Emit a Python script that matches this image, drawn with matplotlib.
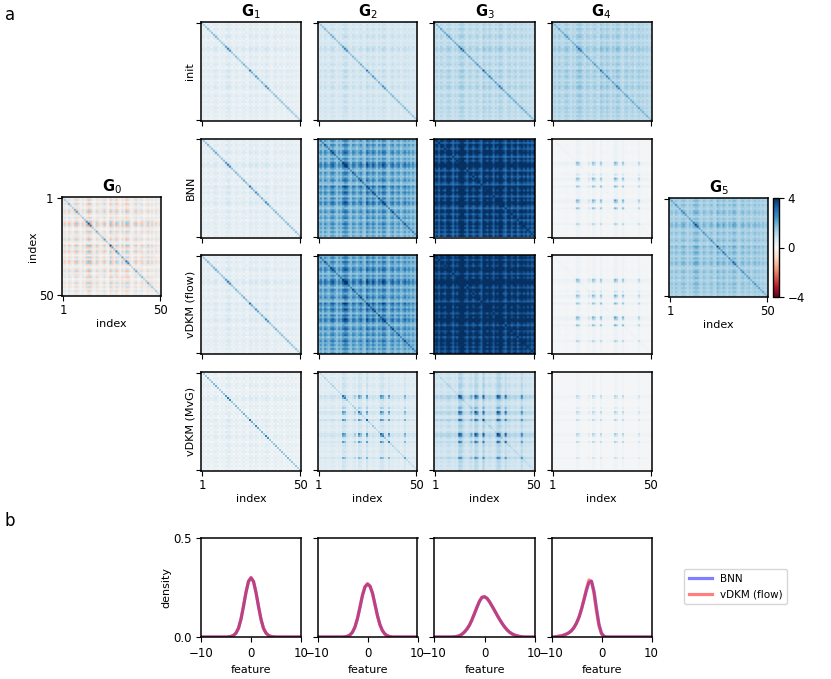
import numpy as np
import matplotlib
matplotlib.use("Agg")
import matplotlib.pyplot as plt
from matplotlib.lines import Line2D

# ---------------- data ----------------
row_labels = ["init", "BNN", "vDKM (flow)", "vDKM (MvG)"]
col_titles = [r"$\mathbf{G}_1$", r"$\mathbf{G}_2$", r"$\mathbf{G}_3$", r"$\mathbf{G}_4$"]

# per-index feature magnitude (plaid structure of the Gram matrices), read by eye
row_scale = [0.45, 0.75, 0.30, 0.85, 0.55, 0.35, 0.80, 0.95, 0.60, 0.25,
             0.70, 0.40, 0.90, 1.15, 1.05, 0.55, 0.30, 0.85, 0.65, 0.35,
             0.60, 0.90, 0.45, 0.25, 1.10, 0.75, 0.50, 1.00, 0.70, 0.30,
             0.85, 0.50, 1.05, 0.95, 0.45, 0.25, 0.70, 0.90, 0.35, 0.60,
             0.80, 0.30, 0.55, 0.85, 0.45, 0.70, 0.35, 0.65, 0.30, 0.55]
# signed fine texture component
tex_scale = [0.5, -0.3, 0.6, -0.5, 0.2, 0.7, -0.4, 0.3, -0.6, 0.4,
             -0.2, 0.5, -0.7, 0.4, 0.3, -0.5, 0.6, -0.3, 0.2, -0.6,
             0.5, -0.4, 0.7, 0.3, -0.2, 0.6, -0.5, 0.4, -0.3, 0.5,
             -0.6, 0.3, 0.2, -0.4, 0.6, -0.5, 0.3, -0.2, 0.7, -0.4,
             0.4, -0.6, 0.5, -0.3, 0.6, -0.2, 0.4, -0.5, 0.3, -0.4]
# diagonal strength
diag_scale = [1.0, 0.9, 1.0, 1.1, 0.9, 1.0, 1.1, 1.2, 1.0, 0.9,
              1.0, 1.1, 1.3, 1.8, 1.6, 1.0, 0.9, 1.1, 1.0, 0.9,
              1.0, 1.2, 1.0, 0.9, 2.0, 1.2, 1.0, 1.6, 1.4, 0.9,
              1.1, 1.0, 1.7, 1.5, 1.0, 0.9, 1.0, 1.1, 0.9, 1.0,
              1.0, 0.9, 1.0, 1.1, 0.9, 1.0, 0.9, 1.0, 0.9, 1.0]
# sparse "hub" indices that light up in deep layers
hub_scale = [0, 0, 0, 0, 0, 0, 0, 0, 0, 0,
             0, 0, 0.85, 0.6, 0, 0, 0, 0, 0.35, 0,
             0.9, 0.5, 0, 0, 0.8, 0, 0, 0, 0, 0,
             0, 1.0, 0.65, 0, 0, 0.9, 0, 0, 0, 0,
             0, 0, 0, 0.6, 0, 0, 0, 0, 0, 0]
# signs of the input features (G0 has both signs)
g0_sign = [1, -1, 1, -1, -1, 1, -1, 1, -1, 1,
           -1, -1, 1, 1, -1, 1, -1, 1, -1, -1,
           1, -1, 1, -1, 1, -1, -1, 1, 1, -1,
           1, -1, 1, 1, -1, -1, 1, -1, 1, -1,
           -1, 1, -1, 1, -1, 1, -1, -1, 1, -1]

# per panel levels: rows = init, BNN, flow, MvG ; cols = G1..G4
panel_base = [[0.15, 0.45, 0.75, 0.85],
              [0.15, 1.20, 2.60, 0.05],
              [0.15, 1.30, 2.80, 0.05],
              [0.10, 0.35, 0.60, 0.05]]
panel_plaid = [[0.55, 0.60, 0.70, 0.80],
               [0.55, 2.00, 3.40, 0.10],
               [0.55, 2.10, 3.50, 0.10],
               [0.45, 0.35, 0.50, 0.05]]
panel_tex = [[0.55, 0.45, 0.40, 0.40],
             [0.55, 0.50, 0.35, 0.00],
             [0.55, 0.50, 0.35, 0.00],
             [0.45, 0.20, 0.25, 0.00]]
panel_diag = [[1.20, 1.00, 1.00, 0.80],
              [1.30, 1.00, 1.00, 0.10],
              [1.30, 1.00, 1.00, 0.10],
              [1.20, 0.50, 0.30, 0.00]]
panel_hub = [[0.00, 0.00, 0.00, 0.00],
             [0.00, 0.30, 0.00, 1.80],
             [0.00, 0.30, 0.00, 1.80],
             [0.00, 1.60, 2.40, 1.10]]
panel_band = [[0.00, 0.00, 0.00, 0.00],
              [0.00, 0.00, 0.00, 0.15],
              [0.00, 0.00, 0.00, 0.15],
              [0.00, 0.30, 0.40, 0.08]]
g0_levels = [0.0, 1.3, 1.0, 0.3]   # base, plaid, diag, texture
g5_levels = [1.0, 1.0, 0.8, 0.35]

# density curves (panel b), read at feature = -10 .. 10, step 0.5
feature_x = [-10.0, -9.5, -9.0, -8.5, -8.0, -7.5, -7.0, -6.5, -6.0, -5.5,
             -5.0, -4.5, -4.0, -3.5, -3.0, -2.5, -2.0, -1.5, -1.0, -0.5,
             0.0, 0.5, 1.0, 1.5, 2.0, 2.5, 3.0, 3.5, 4.0, 4.5,
             5.0, 5.5, 6.0, 6.5, 7.0, 7.5, 8.0, 8.5, 9.0, 9.5, 10.0]
bnn_density = [
    [0, 0, 0, 0, 0, 0, 0, 0, 0, 0, 0, 0.001, 0.003, 0.008, 0.02, 0.044, 0.09, 0.155, 0.225, 0.28,
     0.298, 0.28, 0.225, 0.155, 0.09, 0.044, 0.02, 0.008, 0.003, 0.001, 0, 0, 0, 0, 0, 0, 0, 0, 0, 0, 0],
    [0, 0, 0, 0, 0, 0, 0, 0, 0, 0, 0, 0.001, 0.004, 0.01, 0.024, 0.05, 0.093, 0.15, 0.21, 0.252,
     0.266, 0.256, 0.222, 0.165, 0.108, 0.062, 0.032, 0.015, 0.006, 0.002, 0, 0, 0, 0, 0, 0, 0, 0, 0, 0, 0],
    [0, 0, 0, 0, 0, 0, 0, 0, 0.001, 0.003, 0.007, 0.014, 0.025, 0.04, 0.06, 0.087, 0.118, 0.15, 0.18, 0.2,
     0.203, 0.195, 0.178, 0.157, 0.135, 0.112, 0.09, 0.07, 0.052, 0.037, 0.025, 0.016, 0.01, 0.006, 0.003, 0.001, 0, 0, 0, 0, 0],
    [0, 0, 0.002, 0.004, 0.006, 0.01, 0.015, 0.022, 0.032, 0.048, 0.07, 0.1, 0.14, 0.187, 0.235, 0.275, 0.282, 0.232, 0.145, 0.065,
     0.02, 0.004, 0, 0, 0, 0, 0, 0, 0, 0, 0, 0, 0, 0, 0, 0, 0, 0, 0, 0, 0],
]
flow_density = [
    [0, 0, 0, 0, 0, 0, 0, 0, 0, 0, 0, 0.001, 0.003, 0.008, 0.02, 0.045, 0.091, 0.157, 0.227, 0.282,
     0.301, 0.281, 0.225, 0.154, 0.089, 0.043, 0.02, 0.008, 0.003, 0.001, 0, 0, 0, 0, 0, 0, 0, 0, 0, 0, 0],
    [0, 0, 0, 0, 0, 0, 0, 0, 0, 0, 0, 0.001, 0.004, 0.011, 0.025, 0.052, 0.096, 0.153, 0.213, 0.255,
     0.27, 0.258, 0.22, 0.162, 0.105, 0.06, 0.031, 0.014, 0.006, 0.002, 0, 0, 0, 0, 0, 0, 0, 0, 0, 0, 0],
    [0, 0, 0, 0, 0, 0, 0, 0, 0.001, 0.003, 0.007, 0.014, 0.026, 0.041, 0.061, 0.088, 0.12, 0.152, 0.182, 0.201,
     0.204, 0.196, 0.178, 0.156, 0.134, 0.111, 0.089, 0.069, 0.051, 0.036, 0.024, 0.016, 0.01, 0.006, 0.003, 0.001, 0, 0, 0, 0, 0],
    [0, 0, 0.002, 0.004, 0.006, 0.01, 0.015, 0.022, 0.032, 0.048, 0.07, 0.1, 0.142, 0.192, 0.245, 0.288, 0.28, 0.22, 0.13, 0.055,
     0.015, 0.003, 0, 0, 0, 0, 0, 0, 0, 0, 0, 0, 0, 0, 0, 0, 0, 0, 0, 0, 0],
]

# ---------------- helpers ----------------
r = np.array(row_scale)
q = np.array(tex_scale)
d = np.array(diag_scale)
h = np.array(hub_scale)
one = np.ones(len(r))


def gram(base, plaid, tex, diag, hub=0.0, band=0.0, vec=r):
    return (base + plaid * np.outer(vec, vec) + tex * np.outer(q, q)
            + diag * np.diag(d) + hub * np.outer(h, h)
            + band * (np.outer(h, one) + np.outer(one, h)))


W, H = 831, 679
fig = plt.figure(figsize=(W / 100, H / 100), dpi=100)


def ax_px(x0, y0, w, hgt):
    return fig.add_axes([x0 / W, 1 - (y0 + hgt) / H, w / W, hgt / H])


CM = dict(cmap="RdBu", vmin=-4, vmax=4)
LBL = 8
TCK = 8.5
TTL = 10.5


def style_heat(ax, xlab=False, ylab=False):
    ax.set_xticks([0, 49])
    ax.set_yticks([0, 49])
    ax.set_xticklabels(["1", "50"] if xlab else [])
    ax.set_yticklabels(["1", "50"] if ylab else [])
    ax.tick_params(labelsize=TCK, length=3.5, width=0.8, pad=2.5)
    for s in ax.spines.values():
        s.set_linewidth(1.1)


col_x = [201, 317.5, 434.5, 551.5]
row_y = [22, 138.5, 255, 372]
PW, PH = 100, 99

for i in range(4):
    for j in range(4):
        ax = ax_px(col_x[j], row_y[i], PW, PH)
        M = gram(panel_base[i][j], panel_plaid[i][j], panel_tex[i][j], panel_diag[i][j],
                 panel_hub[i][j], panel_band[i][j])
        ax.imshow(M, aspect="auto", **CM)
        style_heat(ax, xlab=(i == 3))
        if i == 3:
            ax.set_xlabel("index", fontsize=LBL, labelpad=1)
        if j == 0:
            ax.set_ylabel(row_labels[i], fontsize=LBL, labelpad=-2)
        if i == 0:
            ax.set_title(col_titles[j], fontsize=TTL, pad=4)

# G0
ax0 = ax_px(62, 197, 99, 99)
v0 = r * np.array(g0_sign)
ax0.imshow(gram(g0_levels[0], g0_levels[1], g0_levels[3], g0_levels[2], vec=v0), aspect="auto", **CM)
style_heat(ax0, xlab=True, ylab=True)
ax0.set_xlabel("index", fontsize=LBL, labelpad=1)
ax0.set_ylabel("index", fontsize=LBL, labelpad=1)
ax0.set_title(r"$\mathbf{G}_0$", fontsize=TTL, pad=4)

# G5
ax5 = ax_px(669, 198, 99, 99)
im5 = ax5.imshow(gram(g5_levels[0], g5_levels[1], g5_levels[3], g5_levels[2]), aspect="auto", **CM)
style_heat(ax5, xlab=True)
ax5.set_xlabel("index", fontsize=LBL, labelpad=1)
ax5.set_title(r"$\mathbf{G}_5$", fontsize=TTL, pad=4)

cax = ax_px(773, 198, 6, 99)
cb = fig.colorbar(im5, cax=cax, ticks=[-4, 0, 4])
cb.ax.tick_params(labelsize=TCK, length=3.5, width=0.8, pad=2.5)
cb.outline.set_linewidth(1.0)

# density panels
dens_y = 538
for j in range(4):
    ax = ax_px(col_x[j], dens_y, PW, 99)
    ax.plot(feature_x, bnn_density[j], color="blue", alpha=0.5, lw=2.3)
    ax.plot(feature_x, flow_density[j], color="red", alpha=0.5, lw=2.3)
    ax.set_xlim(-10, 10)
    ax.set_ylim(0, 0.5)
    ax.set_xticks([-10, 0, 10])
    ax.set_yticks([0, 0.5])
    if j == 0:
        ax.set_yticklabels(["0.0", "0.5"])
        ax.set_ylabel("density", fontsize=LBL, labelpad=1)
    else:
        ax.set_yticklabels([])
    ax.set_xlabel("feature", fontsize=LBL, labelpad=4)
    ax.tick_params(labelsize=TCK, length=3.5, width=0.8, pad=3.5)
    for s in ax.spines.values():
        s.set_linewidth(1.1)

handles = [Line2D([], [], color="blue", alpha=0.5, lw=2.3),
           Line2D([], [], color="red", alpha=0.5, lw=2.3)]
fig.legend(handles, ["BNN", "vDKM (flow)"], loc="upper left",
           bbox_to_anchor=(679 / W, 1 - 564 / H), fontsize=7.5,
           handlelength=2.2, borderpad=0.45, labelspacing=0.55)

fig.text(5 / W, 1 - 15 / H, "a", fontsize=12, va="center", ha="left")
fig.text(5 / W, 1 - 521 / H, "b", fontsize=12, va="center", ha="left")

fig.savefig("out.png", dpi=100)
